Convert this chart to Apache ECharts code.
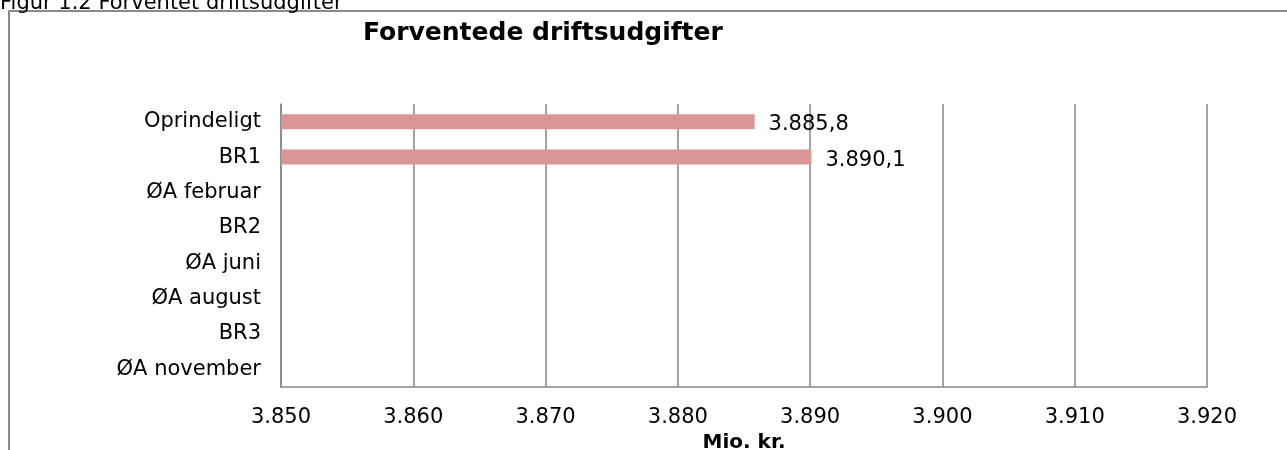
<!DOCTYPE html>
<html>
<head>
<meta charset="utf-8">
<script src="https://cdn.jsdelivr.net/npm/echarts@6/dist/echarts.min.js"></script>
<style>
html,body{margin:0;padding:0;background:#fff;}
#c{width:1287px;height:450px;}
</style>
</head>
<body>
<div id="c"></div>
<script>
var categories = ['Oprindeligt', 'BR1', 'ØA februar', 'BR2', 'ØA juni', 'ØA august', 'BR3', 'ØA november'];
var values = [3885.8, 3890.1, null, null, null, null, null, null];
var axisMin = 3850, axisMax = 3920, axisStep = 10;
var titleText = 'Forventede driftsudgifter';
var captionText = 'Figur 1.2 Forventet driftsudgifter';
var axisNameText = 'Mio. kr.';

function fmtThousands(v, dec) {
  var s = v.toFixed(dec);
  var parts = s.split('.');
  var ip = parts[0].replace(/\B(?=(\d{3})+(?!\d))/g, '.');
  return dec > 0 ? ip + ',' + parts[1] : ip;
}

var FONT = 'DejaVu Sans';
var chart = echarts.init(document.getElementById('c'));
chart.setOption({
  animation: false,
  backgroundColor: '#ffffff',
  title: {
    text: titleText,
    left: 358,
    top: 16,
    textStyle: { fontFamily: FONT, fontSize: 25, fontWeight: 'bold', color: '#000' }
  },
  graphic: [
    { type: 'rect', z: -1, shape: { x: 9, y: 11, width: 1300, height: 500 },
      style: { fill: 'none', stroke: '#8a8a8a', lineWidth: 2 } },
    { type: 'text', x: 0, y: 4, style: { text: captionText, font: '21px "DejaVu Sans"', fill: '#000', verticalAlign: 'middle' } }
  ],
  grid: { left: 281, right: 80, top: 104, bottom: 63, containLabel: false, outerBoundsMode: 'none' },
  xAxis: {
    type: 'value',
    min: axisMin, max: axisMax, interval: axisStep,
    name: axisNameText,
    nameLocation: 'middle',
    nameGap: 45,
    nameTextStyle: { fontFamily: FONT, fontSize: 20, fontWeight: 'bold', color: '#000' },
    axisLine: { show: true, lineStyle: { color: '#868686', width: 1.5 } },
    axisTick: { show: false },
    splitLine: { show: true, lineStyle: { color: '#868686', width: 1.5 } },
    axisLabel: { fontFamily: FONT, fontSize: 21, color: '#000', margin: 20,
      formatter: function (v) { return fmtThousands(v, 0); } }
  },
  yAxis: {
    type: 'category',
    data: categories,
    inverse: true,
    axisLine: { show: true, lineStyle: { color: '#868686', width: 1.5 } },
    axisTick: { show: false },
    axisLabel: { fontFamily: FONT, fontSize: 21, color: '#000', margin: 20, padding: [6, 0, 0, 0] }
  },
  series: [{
    type: 'bar',
    data: values,
    barWidth: 15,
    itemStyle: { color: '#D99694' },
    label: {
      show: true, position: 'right', distance: 14, offset: [0, 3],
      fontFamily: FONT, fontSize: 21, color: '#000',
      formatter: function (p) { return p.value == null ? '' : fmtThousands(p.value, 1); }
    }
  }]
});
</script>
</body>
</html>
